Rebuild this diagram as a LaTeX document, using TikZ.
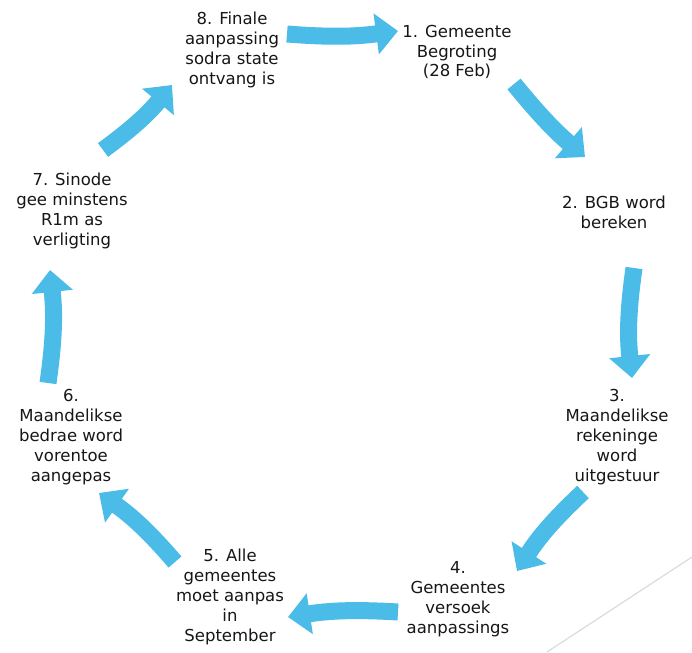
\documentclass[tikz,border=0pt]{standalone}
\usepackage{fontspec}
\setmainfont{DejaVu Sans}
\usetikzlibrary{arrows.meta}
\definecolor{arrowblue}{RGB}{74,188,231}
\definecolor{stepgray}{RGB}{22,22,22}
\definecolor{faintline}{RGB}{215,220,222}
\tikzset{
  stepnode/.style={inner sep=0pt, align=center, text=stepgray,
    font=\fontsize{16.5}{19.8}\selectfont},
  flow/.style={line width=17pt, draw=arrowblue,
    -{Triangle[length=22pt,width=40pt]}},
}
\begin{document}
\begin{tikzpicture}[x=1pt,y=1pt,yscale=-1,xscale=1]
  \useasboundingbox (0,0) rectangle (692,652);
  % Text Nodes
  \node[stepnode] (s1) at (457,52) {1. Gemeente\\Begroting\\(28 Feb)};
  \node[stepnode] (s2) at (614,212) {2. BGB word\\bereken};
  \node[stepnode] (s3) at (617,437) {3.\\Maandelikse\\rekeninge\\word\\uitgestuur};
  \node[stepnode] (s4) at (458,599) {4.\\Gemeentes\\versoek\\aanpassings};
  \node[stepnode] (s5) at (230,597) {5. Alle\\gemeentes\\moet aanpas\\in\\September};
  \node[stepnode] (s6) at (71,437) {6.\\Maandelikse\\bedrae word\\vorentoe\\aangepas};
  \node[stepnode] (s7) at (72,211) {7. Sinode\\gee minstens\\R1m as\\verligting};
  \node[stepnode] (s8) at (232,50) {8. Finale\\aanpassing\\sodra state\\ontvang is};
  % arrow ends
  \coordinate (t81) at (287,34);  \coordinate (h81) at (398,31);
  \coordinate (t12) at (514,84);  \coordinate (h12) at (585,157);
  \coordinate (t23) at (634,268); \coordinate (h23) at (632,378);
  \coordinate (t34) at (583,492); \coordinate (h34) at (517,571);
  \coordinate (t45) at (398,612); \coordinate (h45) at (288,617);
  \coordinate (t56) at (175,562); \coordinate (h56) at (99,493);
  \coordinate (t67) at (48,383);  \coordinate (h67) at (50,270);
  \coordinate (t78) at (103,150); \coordinate (h78) at (172,85);
  % Arrows
  \draw[flow] (t81) to[bend left=6] (h81);
  \draw[flow] (t12) to[bend left=5] (h12);
  \draw[flow] (t23) to[bend left=7] (h23);
  \draw[flow] (t34) to[bend left=7] (h34);
  \draw[flow] (t45) to[bend left=6] (h45);
  \draw[flow] (t56) to[bend left=7] (h56);
  \draw[flow] (t67) to[bend left=7] (h67);
  \draw[flow] (t78) to[bend left=7] (h78);
  % Straight Lines
  \coordinate (f1) at (547,652); \coordinate (f2) at (692,557);
  \draw[faintline, line width=1.2pt] (f1) -- (f2);
\end{tikzpicture}
\end{document}
